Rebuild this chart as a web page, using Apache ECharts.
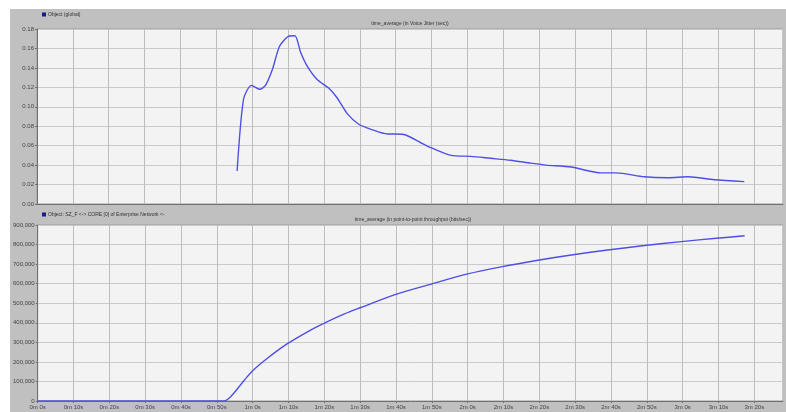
<!DOCTYPE html>
<html>
<head>
<meta charset="utf-8">
<script src="https://cdn.jsdelivr.net/npm/echarts@6/dist/echarts.min.js"></script>
<style>
	html, body { margin: 0; padding: 0; background: #fff; }
	#chart { position: absolute; left: 10px; top: 9px; width: 776px; height: 403px; background: #c0c0c0; }
</style>
</head>
<body>
<div id="chart"></div>
<script>
	// voice jitter (top panel), time in seconds
	var jitterTime = [55.8, 57.6, 59.8, 62.1, 63.7, 65.6, 67.6, 69.9, 71.9, 73.5, 75.3, 78.1, 81.4, 83.7, 86.5, 89.7, 93.0, 97.7, 100.0, 102.8, 107.0, 109.8, 115.4, 121.0, 126.5, 132.0, 137.7, 141.9, 148.9, 157.3, 161.5, 169.3, 176.0, 181.6, 188.8, 197.2];
	var jitterVal = [0.034, 0.108, 0.122, 0.118, 0.122, 0.138, 0.162, 0.172, 0.173, 0.156, 0.142, 0.128, 0.119, 0.109, 0.093, 0.082, 0.077, 0.072, 0.072, 0.071, 0.063, 0.058, 0.050, 0.049, 0.047, 0.045, 0.042, 0.040, 0.038, 0.032, 0.032, 0.028, 0.027, 0.028, 0.025, 0.023];

	// point-to-point throughput (bottom panel)
	var thrTime = [0, 52.0, 54.0, 57.6, 60.0, 64.2, 69.7, 75.3, 80.0, 85.6, 90.2, 99.5, 109.8, 120.0, 129.3, 139.6, 149.4, 159.1, 169.4, 179.6, 189.4, 197.3];
	var thrVal = [0, 0, 25000, 105000, 155000, 220000, 293000, 354000, 398000, 445000, 478000, 543000, 598000, 650000, 686000, 720000, 748000, 772000, 795000, 815000, 832000, 845000];

	var legendNames = ['Object (global)', 'Object: SZ_F <-> CORE [0] of Enterprise Network <-'];
	var panelTitles = ['time_average (in Voice Jitter (sec))', 'time_average (in point-to-point throughput (bits/sec))'];

	function pairs(xs, ys) {
		return xs.map(function (x, i) { return [x, ys[i]]; });
	}
	function timeLabel(v) {
		var m = Math.floor(v / 60), s = Math.round(v - m * 60);
		return m + 'm ' + s + 's';
	}
	function thousands(v) {
		return String(v).replace(/\B(?=(\d{3})+(?!\d))/g, ',');
	}

	var font = '"Liberation Sans", Arial, sans-serif';
	var lineColor = '#4f4fe6';

	function xAxisFor(idx, showLabels) {
		return {
			type: 'value', gridIndex: idx, min: 0, max: 208, interval: 10,
			axisLine: { show: true, onZero: false, lineStyle: { color: '#707070', width: 1 } },
			axisTick: { show: showLabels, length: 2, lineStyle: { color: '#707070' } },
			axisLabel: { show: showLabels, formatter: timeLabel, fontSize: 6, color: '#444', fontFamily: font, margin: 3, showMaxLabel: false },
			splitLine: { show: true, lineStyle: { color: '#bdbdbd', width: 1 } }
		};
	}

	var chart = echarts.init(document.getElementById('chart'));
	var option = {
		animation: false,
		title: [
			{ text: panelTitles[0], left: 400, top: 12, padding: 0, textAlign: 'center', textStyle: { fontSize: 5, fontWeight: 'normal', color: '#333', fontFamily: font } },
			{ text: panelTitles[1], left: 403, top: 208, padding: 0, textAlign: 'center', textStyle: { fontSize: 5, fontWeight: 'normal', color: '#333', fontFamily: font } }
		],
		legend: [
			{ data: [legendNames[0]], left: 32, top: 3, padding: 0, icon: 'rect', itemWidth: 4, itemHeight: 4, itemGap: 2,
				textStyle: { fontSize: 5, color: '#333', fontFamily: font, padding: [0, 0, 0, -3] } },
			{ data: [legendNames[1]], left: 32, top: 203, padding: 0, icon: 'rect', itemWidth: 4, itemHeight: 4, itemGap: 2,
				textStyle: { fontSize: 5, color: '#333', fontFamily: font, padding: [0, 0, 0, -3] } }
		],
		grid: [
			{ left: 27, top: 20, width: 746, height: 175, show: true, backgroundColor: '#f3f3f3', borderColor: '#9a9a9a', borderWidth: 1 },
			{ left: 27, top: 216, width: 746, height: 176, show: true, backgroundColor: '#f3f3f3', borderColor: '#9a9a9a', borderWidth: 1 }
		],
		xAxis: [xAxisFor(0, false), xAxisFor(1, true)],
		yAxis: [
			{
				type: 'value', gridIndex: 0, min: 0, max: 0.18, interval: 0.02,
				axisLine: { show: true, lineStyle: { color: '#707070' } },
				axisTick: { show: true, length: 2, lineStyle: { color: '#707070' } },
				axisLabel: { formatter: function (v) { return v.toFixed(2); }, fontSize: 6, color: '#444', fontFamily: font, margin: 3 },
				splitLine: { lineStyle: { color: '#cacaca' } }
			},
			{
				type: 'value', gridIndex: 1, min: 0, max: 900000, interval: 100000,
				axisLine: { show: true, lineStyle: { color: '#707070' } },
				axisTick: { show: true, length: 2, lineStyle: { color: '#707070' } },
				axisLabel: { formatter: thousands, fontSize: 6, color: '#444', fontFamily: font, margin: 3 },
				splitLine: { lineStyle: { color: '#cacaca' } }
			}
		],
		series: [
			{
				name: legendNames[0], type: 'line', xAxisIndex: 0, yAxisIndex: 0,
				data: pairs(jitterTime, jitterVal), smooth: 0.25, showSymbol: false,
				itemStyle: { color: '#1a1a8c' }, lineStyle: { color: lineColor, width: 1.4 }
			},
			{
				name: legendNames[1], type: 'line', xAxisIndex: 1, yAxisIndex: 1,
				data: pairs(thrTime, thrVal), smooth: 0.3, showSymbol: false,
				itemStyle: { color: '#1a1a8c' }, lineStyle: { color: lineColor, width: 1.4 }
			}
		]
	};
	chart.setOption(option);

	window.addEventListener('resize', function () {
		chart.resize();
	});
</script>
</body>
</html>
